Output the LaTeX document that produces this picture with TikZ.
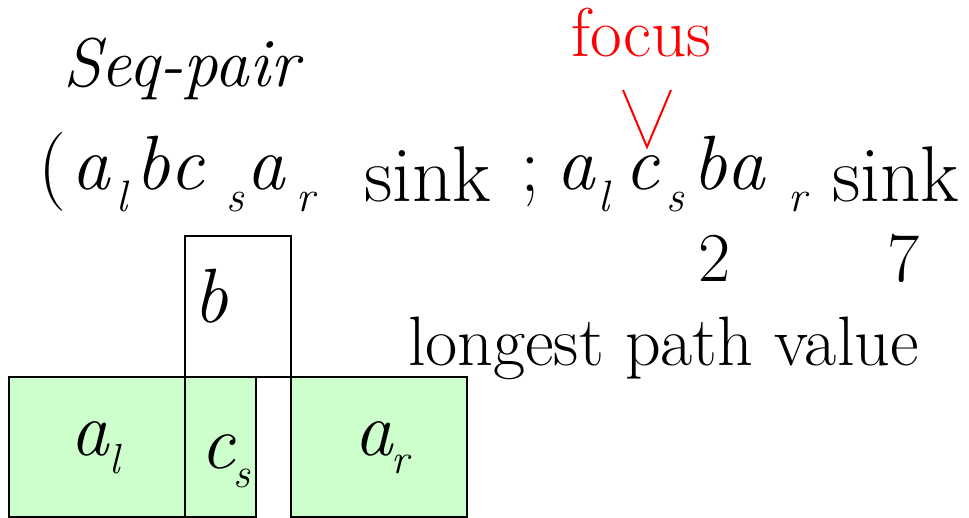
\documentclass[tikz,border=0pt]{standalone}
\definecolor{blkgreen}{RGB}{204,255,204}
\definecolor{fcred}{RGB}{255,0,0}

\begin{document}
\begin{tikzpicture}[x=1pt, y=-1pt,
  every node/.style={inner sep=0pt, outer sep=0pt, anchor=base west},
  seq/.style={font=\fontsize{77}{77}\selectfont\itshape},
  sub/.style={font=\fontsize{44}{44}\selectfont\itshape},
  bsub/.style={font=\fontsize{42}{42}\selectfont\itshape},
  word/.style={font=\fontsize{79}{79}\selectfont},
  note/.style={font=\fontsize{70}{70}\selectfont},
  title/.style={font=\fontsize{69}{69}\selectfont\itshape},
  blockbox/.style={draw=black, line width=2pt},
  greenbox/.style={blockbox, fill=blkgreen},
  focusline/.style={draw=fcred, line width=2pt}
]
  \useasboundingbox (0,0) rectangle (969,518);

  % blocks
  \draw[blockbox, fill=white] (185,236) rectangle (291,377);
  \draw[greenbox] (9,377) rectangle (185,517);
  \draw[greenbox] (185,377) rectangle (256,517);
  \draw[greenbox] (291,377) rectangle (467,517);

  \node[seq] (blkb) at (193,323) {b};
  \node[seq] (blkal) at (70,455) {a};
  \node[bsub] (blkall) at (109,473) {l};
  \node[seq] (blkcs) at (200,468) {c};
  \node[bsub] (blkcss) at (233,487) {s};
  \node[seq] (blkar) at (354,455) {a};
  \node[bsub] (blkarr) at (391,473) {r};

  % title and focus
  \node[title] (seqpair) at (63,87) {Seq-pair};
  \node[note, font=\fontsize{69}{69}\selectfont, text=fcred] (focus) at (571,57) {focus};
  \coordinate (vl) at (623,90);
  \coordinate (vr) at (671,90);
  \coordinate (vtip) at (647,147);
  \draw[focusline] (vl) -- (vtip) -- (vr);

  % positive sequence
  \node[word] (lpar) at (38,192) {(};
  \node[seq] (pa1) at (71,190) {a};
  \node[sub] (pl1) at (116,212) {l};
  \node[seq] (pb) at (135,190) {b};
  \node[seq] (pc) at (169,190) {c};
  \node[sub] (ps) at (226,212) {s};
  \node[seq] (pa2) at (246,190) {a};
  \node[sub] (pr) at (296,212) {r};
  \node[word] (psink) at (364,202) {sink};

  % negative sequence
  \node[word] (semi) at (520,192) {;};
  \node[seq] (na1) at (556,190) {a};
  \node[sub] (nl) at (598,212) {l};
  \node[seq] (nc) at (624,190) {c};
  \node[sub] (ns) at (666,212) {s};
  \node[seq] (nb) at (692,190) {b};
  \node[seq] (na2) at (726,190) {a};
  \node[sub] (nr) at (788,212) {r};
  \node[word] (nsink) at (832,202) {sink};

  % longest path values
  \node[note, anchor=base] (val2) at (715,282) {2};
  \node[note, anchor=base] (val7) at (904,282) {7};
  \node[note] (lpv) at (408,366) {longest path value};
\end{tikzpicture}
\end{document}
